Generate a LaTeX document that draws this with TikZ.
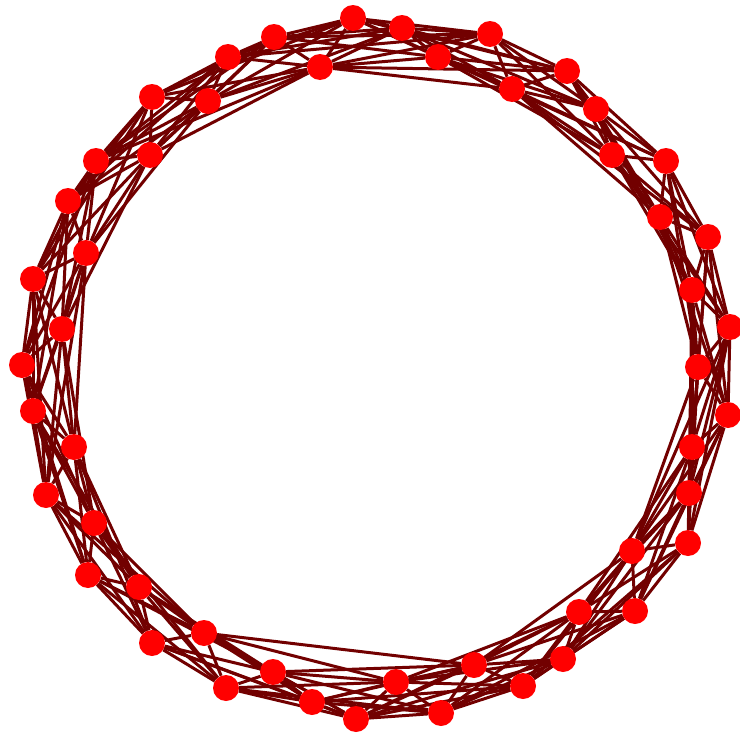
\documentclass[tikz,border=0pt]{standalone}
\usetikzlibrary{backgrounds}
\definecolor{edgered}{HTML}{720000}
\definecolor{nodered}{HTML}{FF0000}

\begin{document}
\begin{tikzpicture}[
  x=1pt,y=-1pt,
  vertex/.style={circle,fill=nodered,inner sep=0pt,minimum size=26pt},
  link/.style={draw=edgered,line width=3pt}]
\useasboundingbox (0,0) rectangle (740,736);
% nodes around the ring
\foreach \p [count=\i] in {(353,18),(402,28),(490,34),(438,57),(567,71),
  (512,89),(596,109),(612,155),(666,161),(660,217),
  (708,237),(692,290),(730,327),(698,367),(728,415),
  (692,447),(689,493),(688,543),(632,551),(635,611),
  (579,612),(563,659),(523,686),(474,665),(441,713),
  (396,682),(356,719),(312,702),(273,672),(226,688),
  (204,633),(152,643),(139,587),(88,575),(94,523),
  (46,495),(74,447),(33,411),(22,365),(62,329),
  (33,279),(86,253),(68,201),(96,161),(150,155),
  (152,97),(208,101),(228,57),(274,37),(320,67)}
  \node[vertex] (n\i) at \p {};
\begin{scope}[on background layer]
% ring lattice
\foreach \i in {1,...,50}
  \foreach \k in {1,...,5}{
    \pgfmathtruncatemacro\j{mod(\i+\k-1,50)+1}
    \draw[link] (n\i) -- (n\j);
  }
% rewired edges
\draw[link] (n50) -- (n6);
\draw[link] (n50) -- (n44);
\draw[link] (n42) -- (n36);
\draw[link] (n31) -- (n24);
\draw[link] (n13) -- (n19);
\draw[link] (n27) -- (n21);
\end{scope}
\end{tikzpicture}
\end{document}
